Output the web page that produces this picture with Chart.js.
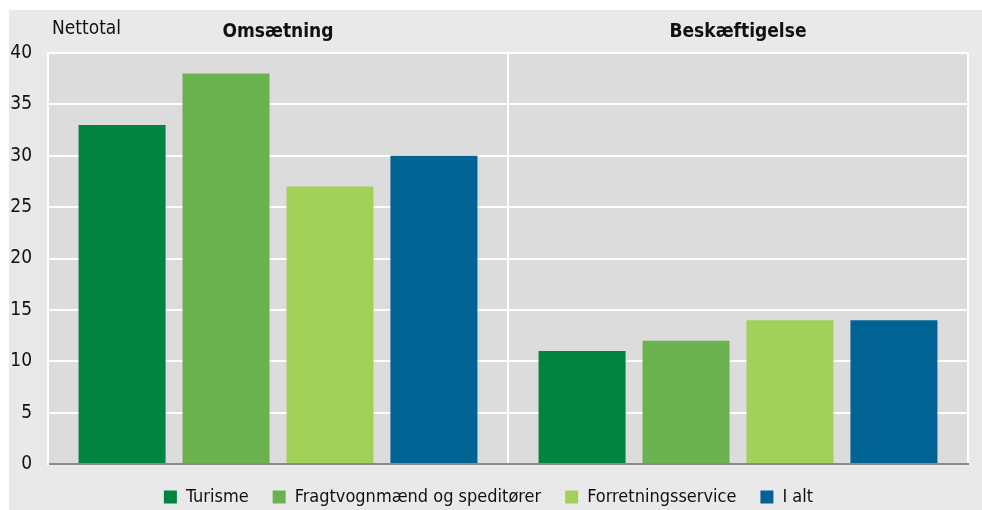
<!DOCTYPE html>
<html>
<head>
<meta charset="utf-8">
<script src="https://cdn.jsdelivr.net/npm/chart.js@4/dist/chart.umd.min.js"></script>
<style>
  body { margin: 0; background: #fff; }
  #wrap { position: absolute; left: 9px; top: 10px; width: 973px; height: 500px; background: #e9e9e9; }
</style>
</head>
<body>
<div id="wrap"><canvas id="chart" width="973" height="500"></canvas></div>
<script>
var categories = ['Omsætning', 'Beskæftigelse'];
var seriesNames = ['Turisme', 'Fragtvognmænd og speditører', 'Forretningsservice', 'I alt'];
var turisme = [33, 11];
var fragt = [38, 12];
var forretning = [27, 14];
var iAlt = [30, 14];
var colors = ['#00843f', '#6ab24e', '#a2d15a', '#006393'];
var yTitle = 'Nettotal';

var FONT = "'Liberation Sans Narrow', 'DejaVu Sans Condensed', sans-serif";

var plotBg = {
  id: 'plotBg',
  beforeDraw: function (chart) {
    var a = chart.chartArea, ctx = chart.ctx;
    ctx.save();
    ctx.fillStyle = '#dcdcdc';
    ctx.fillRect(a.left, a.top, a.right - a.left, a.bottom - a.top);
    ctx.restore();
  },
  afterDraw: function (chart) {
    var ctx = chart.ctx;
    ctx.save();
    ctx.font = '19px ' + FONT;
    ctx.fillStyle = '#111';
    ctx.textBaseline = 'middle';
    ctx.fillText(yTitle, 43, 19);
    ctx.restore();
  }
};

var values = [turisme, fragt, forretning, iAlt];
var datasets = seriesNames.map(function (name, i) {
  return {
    label: name,
    data: values[i],
    backgroundColor: colors[i],
    categoryPercentage: 0.904,
    barPercentage: 0.837
  };
});

new Chart(document.getElementById('chart'), {
  type: 'bar',
  data: { labels: categories, datasets: datasets },
  plugins: [plotBg],
  options: {
    responsive: false,
    animation: false,
    devicePixelRatio: 1,
    layout: { padding: { left: 0, right: 14, top: 0, bottom: -6 } },
    plugins: {
      legend: {
        position: 'bottom',
        labels: {
          boxWidth: 13, boxHeight: 13, padding: 24,
          color: '#111',
          font: { family: FONT, size: 18 }
        }
      },
      tooltip: { enabled: false }
    },
    scales: {
      x: {
        position: 'bottom',
        ticks: { display: false },
        grid: { color: '#ffffff', lineWidth: 2, drawTicks: false, offset: true },
        border: { color: '#8a8a8a', width: 2 },
        afterFit: function (s) { s.height = 0; }
      },
      x2: {
        type: 'category',
        position: 'top',
        labels: categories,
        offset: true,
        grid: { display: false, drawTicks: false },
        border: { display: false },
        ticks: { color: '#111', padding: 10, font: { family: FONT, size: 19, weight: 'bold' } },
        afterFit: function (s) { s.height = 43; }
      },
      y: {
        min: 0, max: 40,
        ticks: { stepSize: 5, color: '#111', padding: 16, font: { family: FONT, size: 19 } },
        grid: { color: '#ffffff', lineWidth: 2, drawTicks: false },
        border: { color: '#ffffff', width: 2 },
        afterFit: function (s) { s.width = 39; }
      }
    }
  }
});
</script>
</body>
</html>
